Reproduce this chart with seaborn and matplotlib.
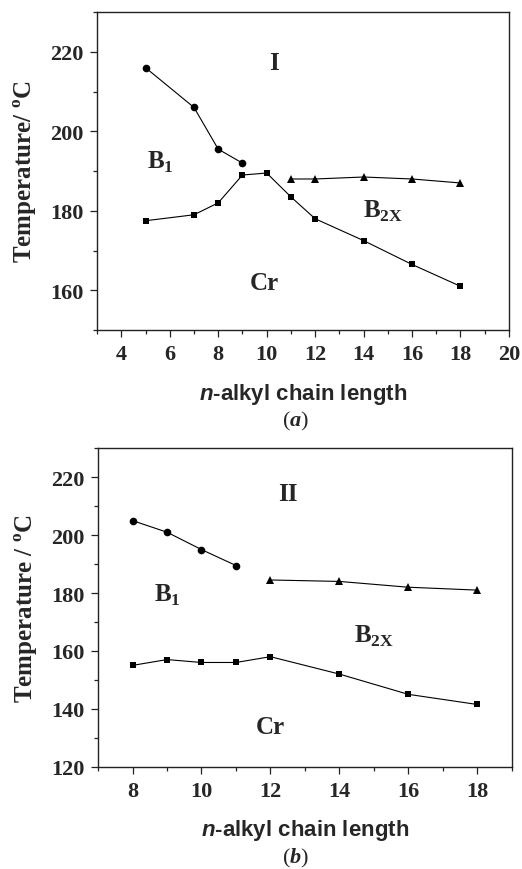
import matplotlib
matplotlib.use('Agg')
import matplotlib.pyplot as plt
import seaborn as sns
import pandas as pd
from matplotlib.ticker import MultipleLocator

# panel (a): compound series I
a_b1_n = [5, 7, 8, 9]
a_b1_t = [216, 206, 195.5, 192]
a_cr_n = [5, 7, 8, 9, 10, 11, 12, 14, 16, 18]
a_cr_t = [177.5, 179, 182, 189, 189.5, 183.5, 178, 172.5, 166.5, 161]
a_b2_n = [11, 12, 14, 16, 18]
a_b2_t = [188, 188, 188.5, 188, 187]

# panel (b): compound series II
b_b1_n = [8, 9, 10, 11]
b_b1_t = [205, 201, 195, 189.5]
b_cr_n = [8, 9, 10, 11, 12, 14, 16, 18]
b_cr_t = [155, 157, 156, 156, 158, 152, 145, 141.5]
b_b2_n = [12, 14, 16, 18]
b_b2_t = [184.5, 184, 182, 181]

sns.set_theme(style="ticks")
plt.rcParams['font.family'] = ['Liberation Serif', 'DejaVu Serif']
plt.rcParams['font.weight'] = 'bold'
plt.rcParams['mathtext.fontset'] = 'custom'
plt.rcParams['mathtext.rm'] = 'Liberation Serif:bold'
plt.rcParams['mathtext.bf'] = 'Liberation Serif:bold'
plt.rcParams['mathtext.it'] = 'Liberation Sans:bold:italic'
plt.rcParams['mathtext.sf'] = 'Liberation Serif:italic'

fig = plt.figure(figsize=(5.22, 8.7), dpi=100)
ax_a = fig.add_axes([0.186, 0.6195, 0.789, 0.3655])
ax_b = fig.add_axes([0.188, 0.1176, 0.792, 0.366])


def draw_series(ax, n, t, marker, ms):
    df = pd.DataFrame({"n": n, "t": t})
    sns.lineplot(data=df, x="n", y="t", ax=ax, color="black", linewidth=0.8,
                 marker=marker, markersize=ms, markeredgewidth=0,
                 markerfacecolor="black", sort=False)


def style_axes(ax, xlim, ylim, xmajor, ylabel):
    ax.set_xlim(*xlim)
    ax.set_ylim(*ylim)
    ax.xaxis.set_major_locator(MultipleLocator(xmajor))
    ax.xaxis.set_minor_locator(MultipleLocator(1))
    ax.yaxis.set_major_locator(MultipleLocator(20))
    ax.yaxis.set_minor_locator(MultipleLocator(10))
    ax.tick_params(which="major", direction="out", length=5, width=0.9,
                   labelsize=16, pad=5, color="#222222")
    ax.tick_params(which="minor", direction="out", length=3, width=0.9,
                   color="#222222")
    ax.tick_params(top=False, right=False)
    for lab in ax.get_xticklabels() + ax.get_yticklabels():
        lab.set_fontweight("bold")
    for sp in ax.spines.values():
        sp.set_visible(True)
        sp.set_linewidth(1.0)
        sp.set_color("#222222")
    ax.set_ylabel(ylabel, fontsize=18, fontweight="bold", labelpad=8)
    ax.set_xlabel("$\\mathit{n}$-alkyl chain length", fontsize=16,
                  fontweight="bold", family="Liberation Sans", labelpad=12)


# panel (a)
draw_series(ax_a, a_b1_n, a_b1_t, "o", 5.5)
draw_series(ax_a, a_cr_n, a_cr_t, "s", 5)
draw_series(ax_a, a_b2_n, a_b2_t, "^", 5.5)
style_axes(ax_a, (3, 20), (150, 230), 2, "Temperature/ $^{\\mathrm{o}}$C")
ax_a.text(10.3, 217.4, "I", fontsize=18, fontweight="bold", ha="center", va="center")
ax_a.text(5.6, 192.5, "B$_{\\mathrm{1}}$", fontsize=18, fontweight="bold", ha="center", va="center")
ax_a.text(14.8, 180, "B$_{\\mathrm{2X}}$", fontsize=18, fontweight="bold", ha="center", va="center")
ax_a.text(9.9, 162, "Cr", fontsize=18, fontweight="bold", ha="center", va="center")

# panel (b)
draw_series(ax_b, b_b1_n, b_b1_t, "o", 5.5)
draw_series(ax_b, b_cr_n, b_cr_t, "s", 5)
draw_series(ax_b, b_b2_n, b_b2_t, "^", 5.5)
style_axes(ax_b, (7, 19), (120, 230), 2, "Temperature / $^{\\mathrm{o}}$C")
ax_b.text(12.5, 214.5, "II", fontsize=18, fontweight="bold", ha="center", va="center")
ax_b.text(9.0, 179.5, "B$_{\\mathrm{1}}$", fontsize=18, fontweight="bold", ha="center", va="center")
ax_b.text(15.0, 165.5, "B$_{\\mathrm{2X}}$", fontsize=18, fontweight="bold", ha="center", va="center")
ax_b.text(12.0, 134, "Cr", fontsize=18, fontweight="bold", ha="center", va="center")

# captions
fig.text(0.566, 1 - 421 / 870, "($\\mathsf{a}$)", fontsize=16, fontweight="normal",
         ha="center", va="center")
fig.text(0.566, 1 - 858 / 870, "($\\mathsf{b}$)", fontsize=16, fontweight="normal",
         ha="center", va="center")

fig.savefig("out.png", dpi=100)
